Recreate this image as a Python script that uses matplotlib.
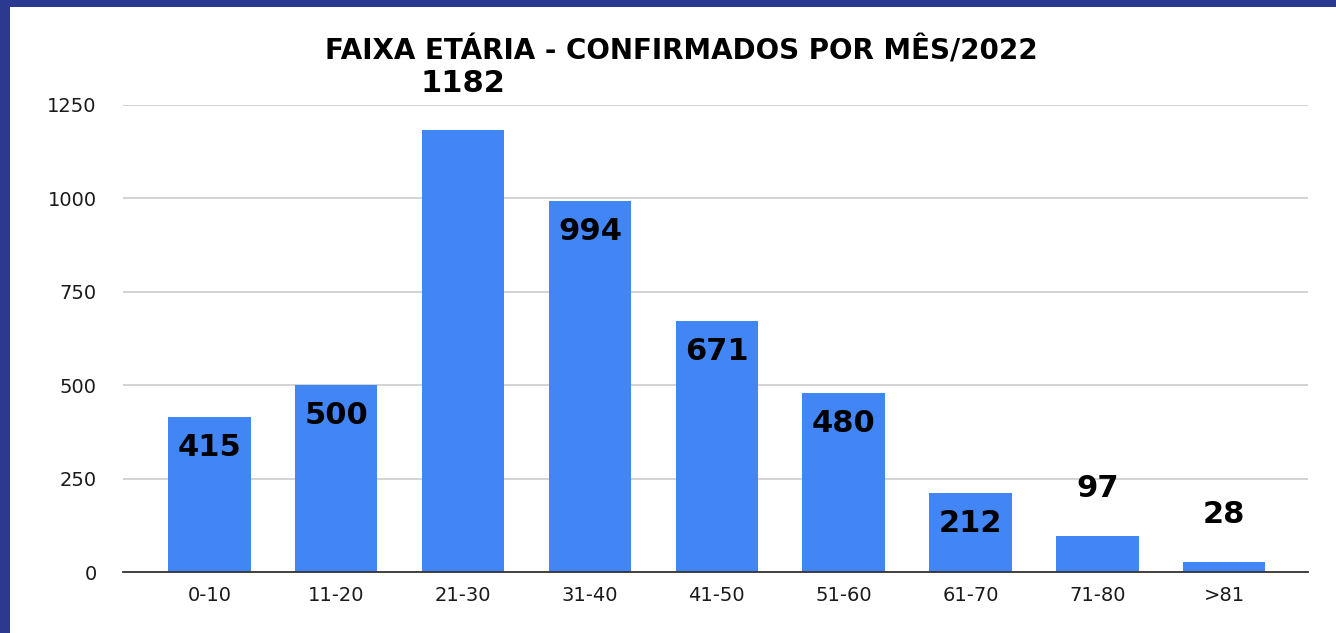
import matplotlib.pyplot as plt
from matplotlib.patches import Rectangle

# dados do grafico
faixas = ['0-10', '11-20', '21-30', '31-40', '41-50', '51-60', '61-70', '71-80', '>81']
confirmados = [415, 500, 1182, 994, 671, 480, 212, 97, 28]
y_ticks = [0, 250, 500, 750, 1000, 1250]

plt.rcParams['font.family'] = ['DejaVu Sans']

fig = plt.figure(figsize=(13.36, 6.33), dpi=100)
fig.patch.set_facecolor('#2b3990')
# area branca (borda azul na esquerda e no topo)
fig.patches.append(Rectangle((10 / 1336, 0), 1 - 10 / 1336, 1 - 7 / 633,
                             transform=fig.transFigure, facecolor='white',
                             edgecolor='none', zorder=-10))

ax = fig.add_axes([123 / 1336, 1 - 572 / 633, (1308 - 123) / 1336, (572 - 105) / 633])
ax.set_facecolor('none')

x = range(len(faixas))
ax.bar(x, confirmados, width=0.65, color='#4285f4', zorder=2)

# rotulos de valor
for i, v in enumerate(confirmados):
    if 150 < v < 1000:
        ax.annotate(str(v), (i, v), xytext=(0, -22), textcoords='offset points',
                    ha='center', va='center', fontsize=22, fontweight='bold', zorder=3)
    else:
        ax.annotate(str(v), (i, v), xytext=(0, 34), textcoords='offset points',
                    ha='center', va='center', fontsize=22, fontweight='bold', zorder=3)

ax.set_xlim(-0.68, 8.66)
ax.set_ylim(0, 1250)
ax.set_yticks(y_ticks)
ax.set_xticks(list(x))
ax.set_xticklabels(faixas)
ax.tick_params(axis='both', length=0, labelsize=14, colors='#1a1a1a')
ax.tick_params(axis='y', pad=19)
ax.tick_params(axis='x', pad=10)
ax.grid(axis='y', color='#cccccc', linewidth=1.2, zorder=1)
for s in ['top', 'right', 'left']:
    ax.spines[s].set_visible(False)
ax.spines['bottom'].set_color('#333333')
ax.spines['bottom'].set_linewidth(1.3)
ax.spines['bottom'].set_zorder(3)

fig.text(0.51, 1 - 59 / 633, 'FAIXA ETÁRIA - CONFIRMADOS POR MÊS/2022',
         ha='center', va='baseline', fontsize=20, fontweight='bold')

plt.savefig('out.png', dpi=100, facecolor=fig.get_facecolor())
